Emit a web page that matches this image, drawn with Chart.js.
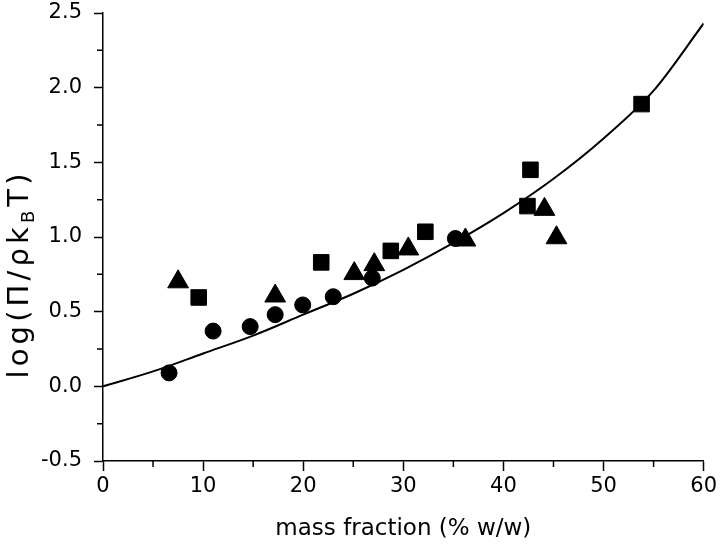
<!DOCTYPE html>
<html lang="en">
<head>
<meta charset="UTF-8">
<title>log(Π/ρkBT) vs mass fraction</title>
<script src="https://cdn.jsdelivr.net/npm/chart.js"></script>
<style>
  html, body { margin: 0; padding: 0; background: #fff; }
  #wrap { width: 720px; height: 546px; }
</style>
</head>
<body>
<div id="wrap"><canvas id="chart" width="720" height="546"></canvas></div>
<script>
// data
const circleX = [6.6, 11.0, 14.7, 17.2, 19.95, 23.0, 26.9, 35.2];
const circleY = [0.09, 0.37, 0.40, 0.48, 0.545, 0.60, 0.725, 0.99];
const squareX = [9.56, 21.8, 28.75, 32.2, 42.4, 42.7, 53.8];
const squareY = [0.595, 0.83, 0.907, 1.035, 1.207, 1.45, 1.89];
const triangleX = [7.5, 17.2, 25.1, 27.1, 30.5, 36.2, 44.1, 45.3];
const triangleY = [0.70, 0.605, 0.755, 0.815, 0.92, 0.98, 1.185, 0.995];
const fitX = [0, 5, 10, 15, 20, 25, 30, 35, 40, 45, 50, 55, 60];
const fitY = [0, 0.10, 0.22, 0.34, 0.48, 0.62, 0.78, 0.96, 1.16, 1.39, 1.66, 1.98, 2.43];

const xMajorTicks = [0, 10, 20, 30, 40, 50, 60];
const xMinorTicks = [5, 15, 25, 35, 45, 55];
const yMajorTicks = [-0.5, 0, 0.5, 1, 1.5, 2, 2.5];
const yMinorTicks = [-0.25, 0.25, 0.75, 1.25, 1.75, 2.25];

const xTitle = 'mass fraction (% w/w)';
const yTitleParts = [
  { text: 'log(Π/ρk', sub: false },
  { text: 'B', sub: true },
  { text: 'T)', sub: false }
];

const FONT = "'DejaVu Sans', 'Liberation Sans', Arial, sans-serif";
const INK = '#000';

function pts(xs, ys) {
  return xs.map((x, i) => ({ x: x, y: ys[i] }));
}

// minor ticks (outward, shorter than the major ones)
const minorTicks = {
  id: 'minorTicks',
  afterDraw(chart) {
    const { ctx, chartArea, scales } = chart;
    ctx.save();
    ctx.strokeStyle = INK;
    ctx.lineWidth = 1.5;
    ctx.beginPath();
    xMinorTicks.forEach(v => {
      const px = scales.x.getPixelForValue(v);
      ctx.moveTo(px, chartArea.bottom);
      ctx.lineTo(px, chartArea.bottom + 6);
    });
    yMinorTicks.forEach(v => {
      const py = scales.y.getPixelForValue(v);
      ctx.moveTo(chartArea.left - 6, py);
      ctx.lineTo(chartArea.left, py);
    });
    ctx.stroke();
    ctx.restore();
  }
};

// rotated y title with a subscript B
const yTitle = {
  id: 'yTitle',
  afterDraw(chart) {
    const { ctx, chartArea } = chart;
    const big = 29, small = 18, span = 205;
    const chars = [];
    yTitleParts.forEach(p => {
      for (const c of p.text) chars.push({ c: c, sub: p.sub });
    });
    ctx.save();
    let natural = 0;
    chars.forEach(ch => {
      ctx.font = (ch.sub ? small : big) + 'px ' + FONT;
      ch.w = ctx.measureText(ch.c).width;
      natural += ch.w;
    });
    const gap = Math.max(0, (span - natural) / (chars.length - 1));
    const cy = chartArea.top + (chartArea.bottom - chartArea.top) * 0.587;
    ctx.translate(28, cy);
    ctx.rotate(-Math.PI / 2);
    ctx.fillStyle = INK;
    ctx.textBaseline = 'alphabetic';
    ctx.textAlign = 'left';
    let x = -span / 2;
    chars.forEach(ch => {
      ctx.font = (ch.sub ? small : big) + 'px ' + FONT;
      ctx.fillText(ch.c, x, ch.sub ? 6 : 0);
      x += ch.w + gap;
    });
    ctx.restore();
  }
};

const pointStyle = (shape, r) => ({
  pointStyle: shape,
  pointRadius: r,
  pointHoverRadius: r,
  backgroundColor: INK,
  borderColor: INK,
  borderWidth: 1,
  showLine: false
});

new Chart(document.getElementById('chart'), {
  type: 'scatter',
  data: {
    datasets: [
      Object.assign({ label: 'circles', data: pts(circleX, circleY), order: 0 }, pointStyle('circle', 8)),
      Object.assign({ label: 'squares', data: pts(squareX, squareY), order: 0 }, pointStyle('rect', 11)),
      Object.assign({ label: 'triangles', data: pts(triangleX, triangleY), order: 0 }, pointStyle('triangle', 12)),
      {
        label: 'fit',
        data: pts(fitX, fitY),
        showLine: true,
        borderColor: INK,
        borderWidth: 2,
        pointRadius: 0,
        cubicInterpolationMode: 'monotone',
        order: 1
      }
    ]
  },
  options: {
    responsive: false,
    animation: false,
    layout: { padding: { top: 0, right: 14, left: 0, bottom: 0 } },
    plugins: { legend: { display: false }, tooltip: { enabled: false } },
    scales: {
      x: {
        type: 'linear',
        min: 0,
        max: 60,
        afterBuildTicks: s => { s.ticks = xMajorTicks.map(v => ({ value: v })); },
        afterFit: s => { s.height = 85; },
        grid: { drawOnChartArea: false, drawTicks: true, tickLength: 10, tickColor: INK, tickWidth: 1.5 },
        border: { display: true, color: INK, width: 1.5 },
        ticks: { color: INK, font: { family: FONT, size: 21 }, padding: 3, maxRotation: 0, callback: v => String(v) },
        title: { display: true, text: xTitle, color: INK, font: { family: FONT, size: 23 }, padding: { top: 0, bottom: 3 } }
      },
      y: {
        type: 'linear',
        min: -0.5,
        max: 2.5,
        afterBuildTicks: s => { s.ticks = yMajorTicks.map(v => ({ value: v })); },
        afterFit: s => { s.width = 103; s.paddingTop = 11; s.paddingBottom = 0; },
        grid: { drawOnChartArea: false, drawTicks: true, tickLength: 9, tickColor: INK, tickWidth: 1.5 },
        border: { display: true, color: INK, width: 1.5 },
        ticks: { color: INK, font: { family: FONT, size: 21 }, padding: 12, callback: v => v.toFixed(1) }
      }
    }
  },
  plugins: [minorTicks, yTitle]
});
</script>
</body>
</html>
